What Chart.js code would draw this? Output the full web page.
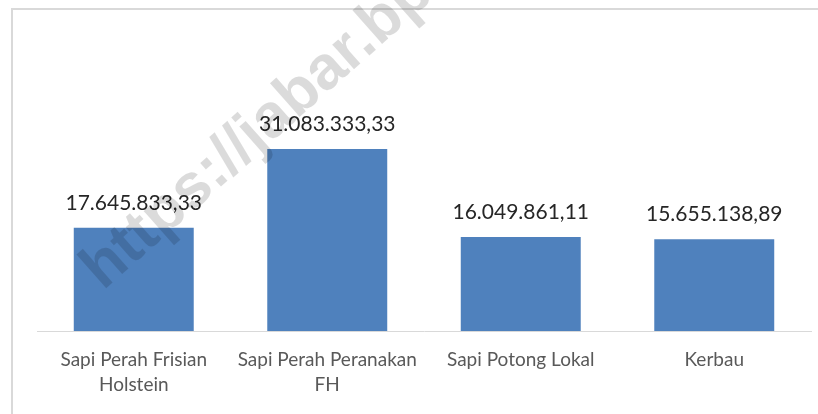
<!DOCTYPE html>
<html>
<head>
<meta charset="utf-8">
<script src="https://cdn.jsdelivr.net/npm/chart.js@4.4.1/dist/chart.umd.min.js"></script>
<style>
  html, body { margin: 0; padding: 0; background: #fff; }
  #wrap { position: relative; width: 818px; height: 414px; overflow: hidden; }
  #frame {
    position: absolute; left: 11px; top: 8px; right: -10px; bottom: -10px;
    border-top: 2px solid #d9d9d9; border-left: 2px solid #d9d9d9;
  }
  #chart { position: absolute; left: 0; top: 0; }
</style>
</head>
<body>
<div id="wrap">
  <div id="frame"></div>
  <canvas id="chart" width="818" height="414"></canvas>
</div>
<script>
// DATA
const categories = [
    ['Sapi Perah Frisian', 'Holstein'],
    ['Sapi Perah Peranakan', 'FH'],
    'Sapi Potong Lokal',
    'Kerbau'
];
const values = [17645833.33, 31083333.33, 16049861.11, 15655138.89];
const barColor = '#4f81bd';
const watermarkText = 'https://jabar.bps.go.id';

// 31083333.33 -> "31.083.333,33"
function formatId(v) {
    const parts = v.toFixed(2).split('.');
    const whole = parts[0].replace(/\B(?=(\d{3})+(?!\d))/g, '.');
    return whole + ',' + parts[1];
}

// draw value above each bar
const valueLabels = {
    id: 'valueLabels',
    afterDatasetsDraw(chart) {
        const ctx = chart.ctx;
        const meta = chart.getDatasetMeta(0);
        ctx.save();
        ctx.font = '21px Lato';
        ctx.fillStyle = '#262626';
        ctx.textAlign = 'center';
        ctx.textBaseline = 'alphabetic';
        meta.data.forEach((bar, i) => {
            ctx.fillText(formatId(values[i]), bar.x, bar.y - 18);
        });
        ctx.restore();
    }
};

// diagonal watermark on top of everything
const watermark = {
    id: 'watermark',
    afterDraw(chart) {
        const ctx = chart.ctx;
        ctx.save();
        ctx.translate(103, 291);
        ctx.rotate(-41.5 * Math.PI / 180);
        ctx.font = 'bold 62px "Liberation Sans", Arial, sans-serif';
        ctx.fillStyle = 'rgba(0, 0, 0, 0.14)';
        ctx.textBaseline = 'alphabetic';
        ctx.fillText(watermarkText, 0, 0);
        ctx.restore();
    }
};

const ctx = document.getElementById('chart').getContext('2d');
new Chart(ctx, {
    type: 'bar',
    data: {
        labels: categories,
        datasets: [{
            data: values,
            backgroundColor: barColor,
            barPercentage: 0.62,
            categoryPercentage: 1
        }]
    },
    options: {
        responsive: false,
        animation: false,
        layout: { padding: { left: 37, right: 7, top: 126, bottom: 0 } },
        plugins: {
            legend: { display: false },
            tooltip: { enabled: false }
        },
        scales: {
            x: {
                grid: { display: false },
                border: { display: true, color: '#d9d9d9', width: 1 },
                ticks: {
                    color: '#595959',
                    font: { family: 'Lato', size: 19, lineHeight: 1.3 },
                    padding: 9,
                    maxRotation: 0,
                    autoSkip: false
                },
                afterFit(scale) { scale.height = 83; }
            },
            y: {
                display: false,
                min: 0,
                max: 35000000
            }
        }
    },
    plugins: [valueLabels, watermark]
});
</script>
</body>
</html>
